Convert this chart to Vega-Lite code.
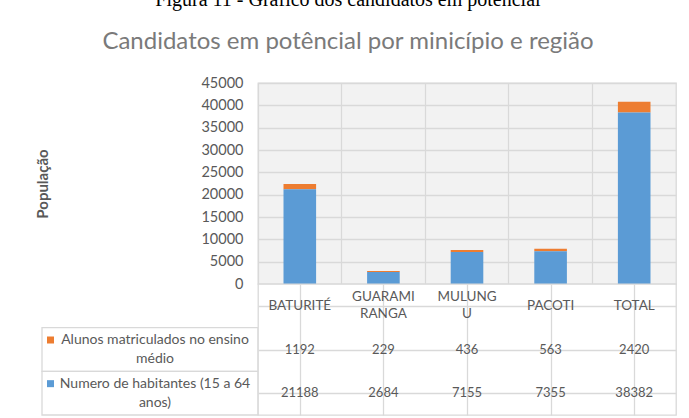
{
  "$schema": "https://vega.github.io/schema/vega-lite/v6.json",
  "background": "white",
  "padding": {"left": 35, "top": -10, "right": 14, "bottom": 4},
  "datasets": {
    "d": [
      {"municipio": "BATURITÉ", "serie": "Alunos matriculados no ensino\nmédio", "valor": 1192},
      {"municipio": "BATURITÉ", "serie": "Numero de habitantes (15 a 64\nanos)", "valor": 21188},
      {"municipio": "GUARAMI\nRANGA", "serie": "Alunos matriculados no ensino\nmédio", "valor": 229},
      {"municipio": "GUARAMI\nRANGA", "serie": "Numero de habitantes (15 a 64\nanos)", "valor": 2684},
      {"municipio": "MULUNG\nU", "serie": "Alunos matriculados no ensino\nmédio", "valor": 436},
      {"municipio": "MULUNG\nU", "serie": "Numero de habitantes (15 a 64\nanos)", "valor": 7155},
      {"municipio": "PACOTI", "serie": "Alunos matriculados no ensino\nmédio", "valor": 563},
      {"municipio": "PACOTI", "serie": "Numero de habitantes (15 a 64\nanos)", "valor": 7355},
      {"municipio": "TOTAL", "serie": "Alunos matriculados no ensino\nmédio", "valor": 2420},
      {"municipio": "TOTAL", "serie": "Numero de habitantes (15 a 64\nanos)", "valor": 38382}
    ]
  },
  "data": {"name": "d"},
  "title": {
    "text": "Figura 11 - Gráfico dos candidatos em potencial",
    "subtitle": "Candidatos em potêncial por minicípio e região",
    "anchor": "middle",
    "dx": -8,
    "font": "Liberation Serif",
    "fontSize": 20,
    "fontWeight": "normal",
    "color": "#000000",
    "subtitleFont": "Lato",
    "subtitleFontSize": 24,
    "subtitleColor": "#7a7a7a",
    "subtitlePadding": 20,
    "offset": 20
  },
  "columns": 2,
  "spacing": 0,
  "bounds": "flush",
  "concat": [
    {
      "width": 216,
      "height": 201,
      "data": {"values": []},
      "view": {"stroke": null},
      "mark": {"type": "text"},
      "encoding": {}
    },
    {
      "width": 418,
      "height": 201,
      "view": {"fill": "#f2f2f2", "stroke": "#d9d9d9", "strokeWidth": 1.3},
      "mark": {"type": "bar", "width": {"band": 0.39}},
      "encoding": {
        "x": {
          "field": "municipio", "type": "nominal", "sort": null,
          "scale": {"paddingInner": 0, "paddingOuter": 0},
          "axis": {"title": null, "labels": false, "ticks": false, "domain": false, "grid": true, "bandPosition": 0}
        },
        "y": {
          "field": "valor", "type": "quantitative", "stack": "zero",
          "scale": {"domain": [0, 45000], "nice": false},
          "axis": {
            "title": "População", "tickCount": 9, "format": "d", "labelFontSize": 14.5, "labelPadding": 15,
            "titleFontSize": 15, "titleFontWeight": "bold", "titleColor": "#595959", "titlePadding": 150
          }
        },
        "color": {
          "field": "serie", "type": "nominal",
          "scale": {"domain": ["Alunos matriculados no ensino\nmédio", "Numero de habitantes (15 a 64\nanos)"], "range": ["#ED7D31", "#5B9BD5"]},
          "legend": null
        },
        "order": {"field": "serie", "sort": "descending"}
      }
    },
    {
      "width": 216,
      "height": 131,
      "view": {"stroke": null},
      "transform": [{"filter": {"field": "municipio", "equal": "TOTAL"}}],
      "encoding": {
        "y": {
          "field": "serie", "type": "nominal",
          "scale": {"domain": [" ", "Alunos matriculados no ensino\nmédio", "Numero de habitantes (15 a 64\nanos)"], "paddingInner": 0, "paddingOuter": 0},
          "axis": null
        }
      },
      "layer": [
        {"mark": {"type": "rect", "fill": "white", "stroke": "#d9d9d9", "strokeWidth": 1.3}},
        {
          "mark": {"type": "text", "lineBreak": "\n", "lineHeight": 19, "dx": 5, "dy": -9.5, "fontSize": 14, "color": "#595959"},
          "encoding": {"text": {"field": "serie"}}
        },
        {
          "mark": {"type": "point", "shape": "square", "filled": true, "size": 49, "opacity": 1, "xOffset": -99.5, "yOffset": -9.5},
          "encoding": {
            "color": {
              "field": "serie", "type": "nominal",
              "scale": {"domain": ["Alunos matriculados no ensino\nmédio", "Numero de habitantes (15 a 64\nanos)"], "range": ["#ED7D31", "#5B9BD5"]},
              "legend": null
            }
          }
        }
      ]
    },
    {
      "width": 418,
      "height": 131,
      "view": {"fill": "white", "stroke": "#d9d9d9", "strokeWidth": 1.3},
      "encoding": {
        "x": {
          "field": "municipio", "type": "nominal", "sort": null,
          "scale": {"paddingInner": 0, "paddingOuter": 0},
          "axis": {"title": null, "labels": false, "ticks": false, "domain": false, "grid": true, "bandPosition": 0}
        }
      },
      "layer": [
        {
          "mark": {"type": "text", "fontSize": 13, "color": "#595959"},
          "encoding": {
            "y": {
              "field": "serie", "type": "nominal",
              "scale": {"domain": [" ", "Alunos matriculados no ensino\nmédio", "Numero de habitantes (15 a 64\nanos)"], "paddingInner": 0, "paddingOuter": 0},
              "axis": {"title": null, "labels": false, "ticks": false, "domain": false, "grid": true, "bandPosition": 0}
            },
            "text": {"field": "valor", "type": "quantitative", "format": "d"}
          }
        },
        {
          "transform": [
            {"filter": {"field": "serie", "equal": "Numero de habitantes (15 a 64\nanos)"}},
            {"filter": {"field": "municipio", "oneOf": ["BATURITÉ", "PACOTI", "TOTAL"]}}
          ],
          "mark": {"type": "text", "fontSize": 13.5, "color": "#595959"},
          "encoding": {
            "y": {"datum": " ", "type": "nominal"},
            "text": {"field": "municipio"}
          }
        },
        {
          "transform": [
            {"filter": {"field": "serie", "equal": "Numero de habitantes (15 a 64\nanos)"}},
            {"filter": {"field": "municipio", "oneOf": ["GUARAMI\nRANGA", "MULUNG\nU"]}}
          ],
          "mark": {"type": "text", "fontSize": 13.5, "color": "#595959", "lineBreak": "\n", "lineHeight": 17, "dy": -8.5},
          "encoding": {
            "y": {"datum": " ", "type": "nominal"},
            "text": {"field": "municipio"}
          }
        }
      ]
    }
  ],
  "config": {
    "font": "Lato",
    "axis": {"gridColor": "#d9d9d9", "gridWidth": 1.3, "labelColor": "#595959", "domain": false, "ticks": false}
  }
}
